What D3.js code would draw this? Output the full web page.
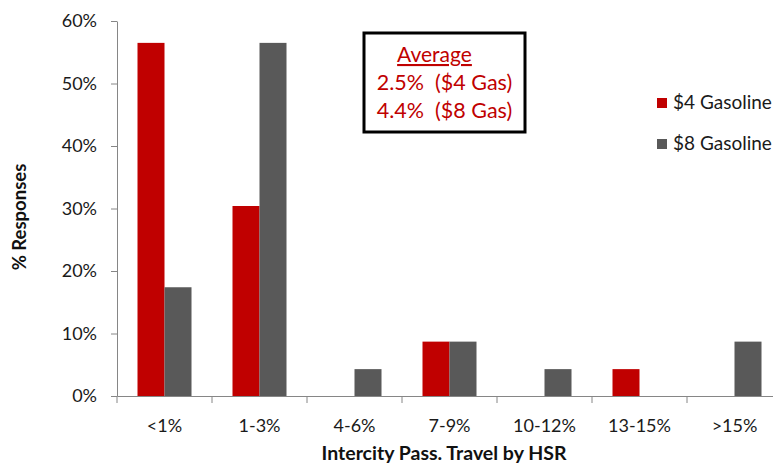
<!DOCTYPE html>
<html>
<head>
<meta charset="utf-8">
<script src="https://cdn.jsdelivr.net/npm/d3@7"></script>
<style>
  body { margin: 0; background: #fff; }
  svg { display: block; font-family: Lato, "Open Sans", sans-serif; }
</style>
</head>
<body>
<svg></svg>
<script>
var categories = ["<1%", "1-3%", "4-6%", "7-9%", "10-12%", "13-15%", ">15%"]
var seriesNames = ["$4 Gasoline", "$8 Gasoline"]
var gas4 = [0.565, 0.304, 0, 0.087, 0, 0.043, 0]
var gas8 = [0.174, 0.565, 0.043, 0.087, 0.043, 0, 0.087]
var yTicks = [0, 0.1, 0.2, 0.3, 0.4, 0.5, 0.6]
var averageTitle = "Average"
var averageLines = ["2.5%  ($4 Gas)", "4.4%  ($8 Gas)"]

var width = 773
var height = 464
var colors = ["#c00000", "#595959"]
var axisColor = "#868686"

var svg = d3.select("svg")
  .attr("width", width)
  .attr("height", height)

var x = d3.scaleBand()
  .domain(categories)
  .range([117, 117 + 95 * categories.length])

var xInner = d3.scaleBand()
  .domain(seriesNames)
  .range([20.5, 74.5])

var y = d3.scaleLinear()
  .domain([0, 0.6])
  .range([396, 21])

// bars
var rows = categories.map((c, i) => ({cat: c, vals: [gas4[i], gas8[i]]}))

svg.append("g")
  .selectAll("g")
  .data(rows)
  .enter()
    .append("g")
    .attr("transform", d => "translate(" + x(d.cat) + ",0)")
    .selectAll("rect")
    .data(d => d.vals.map((v, j) => ({name: seriesNames[j], v: v, j: j})))
    .enter()
      .append("rect")
      .attr("x", d => xInner(d.name))
      .attr("width", xInner.bandwidth())
      .attr("y", d => y(d.v))
      .attr("height", d => y(0) - y(d.v))
      .attr("fill", d => colors[d.j])

// y axis
var yAxis = svg.append("g")
  .attr("transform", "translate(117,0)")
  .call(d3.axisLeft(y).tickValues(yTicks).tickFormat(d3.format(".0%")).tickSize(6).tickSizeOuter(0).tickPadding(14))

yAxis.selectAll("line, path").attr("stroke", axisColor)
yAxis.selectAll("text").attr("font-size", 18).attr("fill", "#1a1a1a").attr("font-family", "Lato, sans-serif")

// x axis
var xAxis = svg.append("g")
  .attr("transform", "translate(0,396)")
  .call(d3.axisBottom(x).tickSize(0).tickPadding(23))

xAxis.select("path").attr("stroke", axisColor)
xAxis.selectAll("text").attr("font-size", 18).attr("fill", "#1a1a1a").attr("font-family", "Lato, sans-serif")

svg.append("g")
  .selectAll("line")
  .data(categories)
  .enter()
    .append("line")
    .attr("x1", d => x(d))
    .attr("x2", d => x(d))
    .attr("y1", 396)
    .attr("y2", 403)
    .attr("stroke", axisColor)

// axis titles
svg.append("text")
  .attr("transform", "translate(26,217) rotate(-90)")
  .attr("text-anchor", "middle")
  .attr("font-size", 18.5)
  .attr("font-weight", "bold")
  .attr("fill", "#111")
  .text("% Responses")

svg.append("text")
  .attr("x", 444)
  .attr("y", 460)
  .attr("text-anchor", "middle")
  .attr("font-size", 19.5)
  .attr("font-weight", "bold")
  .attr("fill", "#111")
  .text("Intercity Pass. Travel by HSR")

// legend
var legend = svg.append("g")
  .selectAll("g")
  .data(seriesNames)
  .enter()
    .append("g")
    .attr("transform", (d, i) => "translate(657," + (98 + i * 41) + ")")

legend.append("rect")
  .attr("width", 10)
  .attr("height", 10)
  .attr("fill", (d, i) => colors[i])

legend.append("text")
  .attr("x", 16)
  .attr("y", 11)
  .attr("font-size", 19)
  .attr("fill", "#1a1a1a")
  .text(d => d)

// average box
svg.append("rect")
  .attr("x", 364)
  .attr("y", 33)
  .attr("width", 161)
  .attr("height", 99)
  .attr("fill", "#fff")
  .attr("stroke", "#000")
  .attr("stroke-width", 3)

svg.append("text")
  .attr("x", 434.5)
  .attr("y", 62)
  .attr("text-anchor", "middle")
  .attr("font-size", 21)
  .attr("fill", "#c00000")
  .style("text-decoration", "underline")
  .text(averageTitle)

svg.append("g")
  .selectAll("text")
  .data(averageLines)
  .enter()
    .append("text")
    .attr("x", 444.5)
    .attr("y", (d, i) => 90 + i * 28)
    .attr("text-anchor", "middle")
    .attr("font-size", 21.5)
    .attr("fill", "#c00000")
    .style("white-space", "pre")
    .text(d => d)
</script>
</body>
</html>
